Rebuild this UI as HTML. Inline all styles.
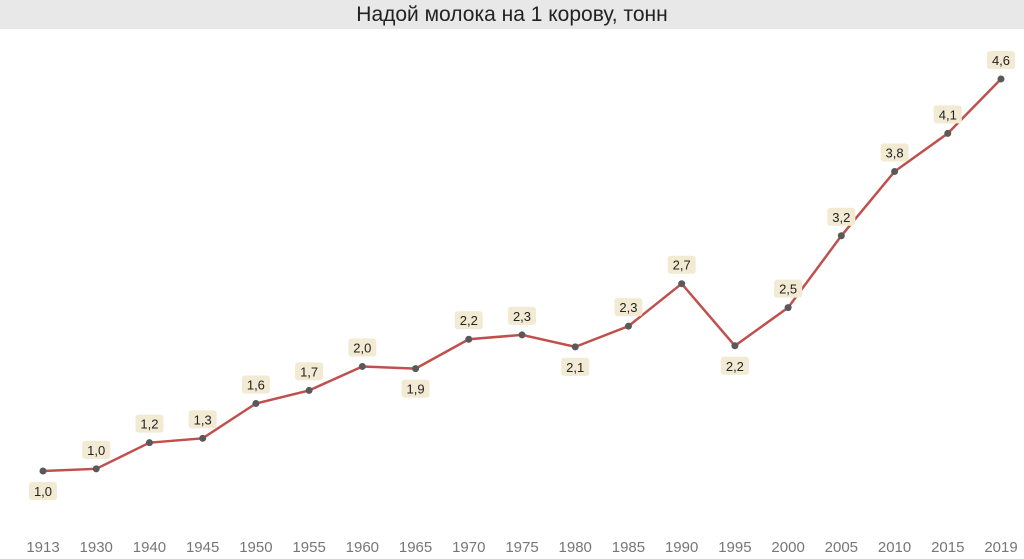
<!DOCTYPE html>
<html><head><meta charset="utf-8"><style>
body{margin:0;background:#fff;width:1024px;height:559px;overflow:hidden;font-family:"Liberation Sans","DejaVu Sans",sans-serif}
#title{position:absolute;left:0;top:0;width:1024px;height:29px;background:#e8e8e8;text-align:center;font-size:21px;line-height:30px;color:#222}
</style></head><body>
<div id="title">Надой молока на 1 корову, тонн</div>
<svg id="c" width="1024" height="559" style="position:absolute;left:0;top:0"></svg>
<script>
const years=["1913","1930","1940","1945","1950","1955","1960","1965","1970","1975","1980","1985","1990","1995","2000","2005","2010","2015","2019"];
const values=[1.0,1.02,1.26,1.30,1.62,1.74,1.96,1.94,2.21,2.25,2.14,2.33,2.72,2.15,2.50,3.16,3.75,4.10,4.60];
const labels=["1,0","1,0","1,2","1,3","1,6","1,7","2,0","1,9","2,2","2,3","2,1","2,3","2,7","2,2","2,5","3,2","3,8","4,1","4,6"];
const below=[true,false,false,false,false,false,false,true,false,false,true,false,false,true,false,false,false,false,false];
const NS="http://www.w3.org/2000/svg",svg=document.getElementById('c');
const x=i=>43+i*(1001-43)/(years.length-1);
const y=v=>471-(v-1)*108.9;
function mk(t,a,p){const e=document.createElementNS(NS,t);for(const k in a)e.setAttribute(k,a[k]);(p||svg).appendChild(e);return e;}
const line=mk('polyline',{points:values.map((v,i)=>x(i)+','+y(v)).join(' '),fill:'none',stroke:'#c0504d','stroke-width':2.5});


years.forEach((yr,i)=>{
  const t=mk('text',{x:x(i),y:552,'text-anchor':'middle','font-size':15,fill:'#777'});t.textContent=yr;
  
  
  const px=x(i),py=y(values[i]);
  const d=mk('circle',{cx:px,cy:py,r:3.5,fill:'#595959'});
  
  
  const cy=below[i]?py+20:py-19;
  const r=mk('rect',{x:px-14,y:cy-9,width:28,height:18,rx:3,fill:'#f2ead2'});
  
  
  const l=mk('text',{x:px,y:cy+5,'text-anchor':'middle','font-size':13,fill:'#222'});l.textContent=labels[i];
  
  
});
</script>
</body></html>
